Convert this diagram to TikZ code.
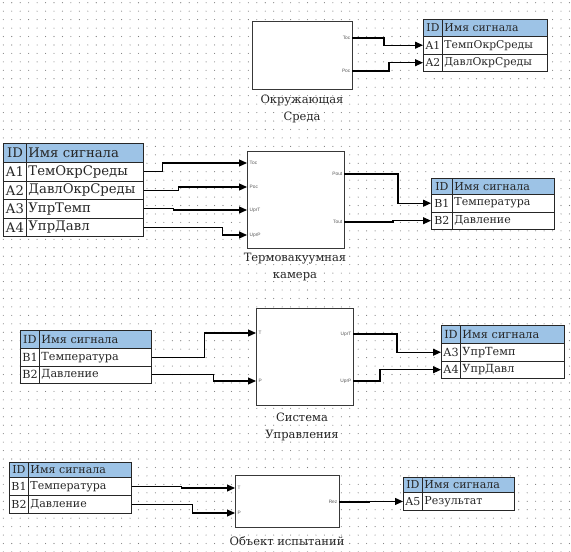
\documentclass[tikz,border=0pt]{standalone}
\usepackage{fontspec}
\setmainfont{DejaVu Serif}
\newfontfamily\portfont{Liberation Sans}
\usetikzlibrary{arrows.meta}
\definecolor{hdr}{HTML}{9DC3E6}
\definecolor{txt}{HTML}{262626}
\definecolor{boxline}{HTML}{383838}
\definecolor{dotc}{HTML}{7A7A7A}
\newcommand\sigrow[9]{%
  \node[cell, fill=#9, minimum width=#4pt, minimum height=#6pt, align=center] (#1i) at (#2,#3) {#7};
  \node[cell, fill=#9, text width=#5pt, minimum height=#6pt, align=left] (#1n) at (#2+#4,#3) {#8};
}
\begin{document}
\begin{tikzpicture}[x=1pt,y=-1pt,
  cell/.style={draw=txt, line width=0.9pt, inner ysep=0pt, inner xsep=2pt, anchor=north west, text=txt},
  block/.style={draw=boxline, line width=1.1pt, fill=white, anchor=north west, inner sep=0pt},
  port/.style={font=\portfont\fontsize{4.8}{5}\selectfont, text=black!65, inner sep=1.5pt},
  caption/.style={font=\fontsize{11.5}{17}\selectfont, text=txt, align=center},
  sig/.style={line width=1.1pt, -{Triangle[length=8pt,width=7pt]}}]
\useasboundingbox (0,0) rectangle (571,552);
\fill[white] (0,0) rectangle (571,552);
% dot grid
\foreach \i in {0,...,67}{\foreach \j in {0,...,65}{\fill[dotc] (3.3+\i*8.45,2.7+\j*8.45) circle (0.55);}}

% ---------- Block 1 ----------
\node[block, minimum width=100pt, minimum height=68pt] (b1) at (252,21) {};
\coordinate (b1toc) at (352,38);
\coordinate (b1poc) at (352,71);
\node[port, anchor=east] (b1tocl) at (b1toc) {Toc};
\node[port, anchor=east] (b1pocl) at (b1poc) {Poc};
\node[caption] (c1) at (302,109) {Окружающая\\Среда};

\begin{scope}[every node/.append style={font=\fontsize{10.8}{12}\selectfont}]
\sigrow{t1h}{423}{19}{19}{101}{17}{ID}{Имя сигнала}{hdr}
\sigrow{t1a}{423}{36}{19}{101}{17.5}{A1}{ТемпОкрСреды}{white}
\sigrow{t1b}{423}{53.5}{19}{101}{17.5}{A2}{ДавлОкрСреды}{white}
\end{scope}
\draw[sig] (b1toc) -- ([xshift=32pt]b1toc) |- (t1ai.west);
\draw[sig] (b1poc) -- ([xshift=37pt]b1poc) |- (t1bi.west);

% ---------- Block 2 ----------
\node[block, minimum width=97pt, minimum height=97pt] (b2) at (247,151) {};
\coordinate (b2toc) at (247,163);
\coordinate (b2poc) at (247,187);
\coordinate (b2uprt) at (247,210);
\coordinate (b2uprp) at (247,235);
\coordinate (b2pout) at (344,174);
\coordinate (b2tout) at (344,222);
\node[port, anchor=west] (b2tocl) at ([xshift=1pt]b2toc) {Toc};
\node[port, anchor=west] (b2pocl) at ([xshift=1pt]b2poc) {Poc};
\node[port, anchor=west] (b2uprtl) at ([xshift=1pt]b2uprt) {UprT};
\node[port, anchor=west] (b2uprpl) at ([xshift=1pt]b2uprp) {UprP};
\node[port, anchor=east] (b2poutl) at (b2pout) {Pout};
\node[port, anchor=east] (b2toutl) at (b2tout) {Tout};
\node[caption] (c2) at (295,267) {Термовакуумная\\камера};

\begin{scope}[every node/.append style={font=\fontsize{13.2}{14}\selectfont}]
\sigrow{t2h}{3}{143}{23}{113}{19}{ID}{Имя сигнала}{hdr}
\sigrow{t2a}{3}{162}{23}{113}{18.5}{A1}{ТемОкрСреды}{white}
\sigrow{t2b}{3}{180.5}{23}{113}{18.5}{A2}{ДавлОкрСреды}{white}
\sigrow{t2c}{3}{199}{23}{113}{18.5}{A3}{УпрТемп}{white}
\sigrow{t2d}{3}{217.5}{23}{113}{18.5}{A4}{УпрДавл}{white}
\end{scope}
\draw[sig] (t2an.east) -- ([xshift=19pt]t2an.east) |- (b2toc);
\draw[sig] (t2bn.east) -- ([xshift=35pt]t2bn.east) |- (b2poc);
\draw[sig] (t2cn.east) -- ([xshift=30pt]t2cn.east) |- (b2uprt);
\draw[sig] (t2dn.east) -- ([xshift=79pt]t2dn.east) |- (b2uprp);

\begin{scope}[every node/.append style={font=\fontsize{11}{12}\selectfont}]
\sigrow{t3h}{431}{178}{21}{98}{16}{ID}{Имя сигнала}{hdr}
\sigrow{t3a}{431}{194}{21}{98}{17.5}{B1}{Температура}{white}
\sigrow{t3b}{431}{211.5}{21}{98}{17.5}{B2}{Давление}{white}
\end{scope}
\draw[sig] (b2pout) -- ([xshift=54pt]b2pout) |- (t3ai.west);
\draw[sig] (b2tout) -- ([xshift=49pt]b2tout) |- (t3bi.west);

% ---------- Block 3 ----------
\node[block, minimum width=97pt, minimum height=97pt] (b3) at (256,308) {};
\coordinate (b3t) at (256,333);
\coordinate (b3p) at (256,381);
\coordinate (b3uprt) at (353,334);
\coordinate (b3uprp) at (353,381);
\node[port, anchor=west] (b3tl) at ([xshift=1pt]b3t) {T};
\node[port, anchor=west] (b3pl) at ([xshift=1pt]b3p) {P};
\node[port, anchor=east] (b3uprtl) at (b3uprt) {UprT};
\node[port, anchor=east] (b3uprpl) at (b3uprp) {UprP};
\node[caption] (c3) at (302,427) {Система\\Управления};

\begin{scope}[every node/.append style={font=\fontsize{11.2}{12}\selectfont}]
\sigrow{t4h}{20}{330}{19}{108}{18}{ID}{Имя сигнала}{hdr}
\sigrow{t4a}{20}{348}{19}{108}{17.5}{B1}{Температура}{white}
\sigrow{t4b}{20}{365.5}{19}{108}{17.5}{B2}{Давление}{white}
\sigrow{t5h}{441}{325}{19}{100}{18}{ID}{Имя сигнала}{hdr}
\sigrow{t5a}{441}{343}{19}{100}{17.5}{A3}{УпрТемп}{white}
\sigrow{t5b}{441}{360.5}{19}{100}{17.5}{A4}{УпрДавл}{white}
\end{scope}
\draw[sig] (t4an.east) -- ([xshift=53pt]t4an.east) |- (b3t);
\draw[sig] (t4bn.east) -- ([xshift=62pt]t4bn.east) |- (b3p);
\draw[sig] (b3uprt) -- ([xshift=44pt]b3uprt) |- (t5ai.west);
\draw[sig] (b3uprp) -- ([xshift=27pt]b3uprp) |- (t5bi.west);

% ---------- Block 4 ----------
\node[block, minimum width=104pt, minimum height=52pt] (b4) at (235,475) {};
\coordinate (b4t) at (235,488);
\coordinate (b4p) at (235,513);
\coordinate (b4rez) at (339,502);
\node[port, anchor=west] (b4tl) at ([xshift=1pt]b4t) {T};
\node[port, anchor=west] (b4pl) at ([xshift=1pt]b4p) {P};
\node[port, anchor=east] (b4rezl) at (b4rez) {Rez};
\node[caption] (c4) at (287,541) {Объект испытаний};

\begin{scope}[every node/.append style={font=\fontsize{11}{12}\selectfont}]
\sigrow{t6h}{9}{462}{19}{99}{15}{ID}{Имя сигнала}{hdr}
\sigrow{t6a}{9}{477}{19}{99}{18}{B1}{Температура}{white}
\sigrow{t6b}{9}{495}{19}{99}{18}{B2}{Давление}{white}
\sigrow{t7h}{403}{477}{19}{88}{15}{ID}{Имя сигнала}{hdr}
\sigrow{t7a}{403}{492}{19}{88}{18}{A5}{Результат}{white}
\end{scope}
\draw[sig] (t6an.east) -- ([xshift=50pt]t6an.east) |- (b4t);
\draw[sig] (t6bn.east) -- ([xshift=61pt]t6bn.east) |- (b4p);
\draw[sig] (b4rez) -- ([xshift=30pt]b4rez) |- (t7ai.west);
\end{tikzpicture}
\end{document}
